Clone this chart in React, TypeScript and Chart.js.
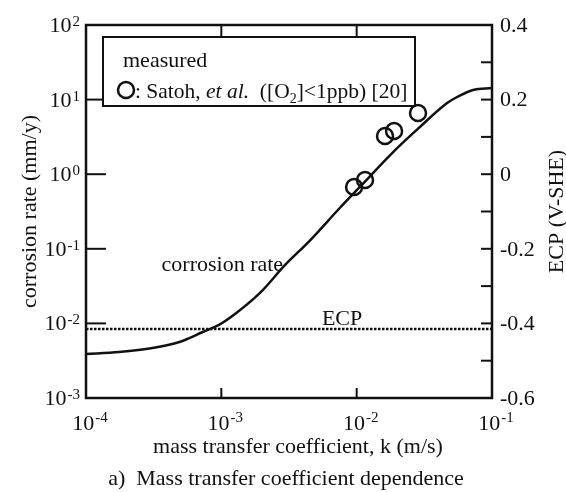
import React, { useEffect, useRef } from "react";
import { Chart, registerables } from "chart.js";

Chart.register(...registerables);

// calculated corrosion rate curve (mass transfer coefficient k [m/s] -> corrosion rate [mm/y])
const curveK = [1e-4, 1.75e-4, 3.1e-4, 4.9e-4, 7.3e-4, 9.6e-4, 1.29e-3, 1.93e-3, 2.96e-3, 4.53e-3, 7.53e-3, 1.06e-2, 1.86e-2, 2.79e-2, 4.66e-2, 5.52e-2, 7.24e-2, 1e-1];
const curveRate = [0.00389, 0.00414, 0.00468, 0.00564, 0.00767, 0.00953, 0.01377, 0.0256, 0.0607, 0.13, 0.355, 0.68, 1.98, 3.95, 8.99, 10.84, 13.46, 14.29];

// measured: Satoh et al.
const measuredK = [0.00957, 0.01153, 0.0162, 0.0189, 0.0284];
const measuredRate = [0.673, 0.836, 3.25, 3.79, 6.61];

// ECP (V-SHE)
const ecpK = [1e-4, 1e-1];
const ecpValue = [-0.415, -0.415];

// axis ticks
const xTickExps = [-4, -3, -2, -1];
const yTickExps = [-3, -2, -1, 0, 1, 2];
const rightTickLabels = [-0.6, -0.4, -0.2, 0, 0.2, 0.4];
const rightMinorTicks = [-0.5, -0.4, -0.3, -0.2, -0.1, 0, 0.1, 0.2, 0.3];

const FONT = '"Liberation Serif", "Times New Roman", serif';
const INK = "#111";

function drawPow(ctx: CanvasRenderingContext2D, exp: number, x: number, baseY: number, supY: number, align: "right" | "center") {
  ctx.font = `22px ${FONT}`;
  const base = "10";
  const bw = ctx.measureText(base).width;
  ctx.font = `15px ${FONT}`;
  const sup = String(exp);
  const sw = ctx.measureText(sup).width;
  const total = bw + sw + 1;
  const start = align === "right" ? x - total : x - total / 2;
  ctx.textAlign = "left";
  ctx.textBaseline = "alphabetic";
  ctx.font = `22px ${FONT}`;
  ctx.fillText(base, start, baseY);
  ctx.font = `15px ${FONT}`;
  ctx.fillText(sup, start + bw + 1, supY);
}

function seg(ctx: CanvasRenderingContext2D, x1: number, y1: number, x2: number, y2: number) {
  ctx.beginPath();
  ctx.moveTo(x1, y1);
  ctx.lineTo(x2, y2);
  ctx.stroke();
}

const overlayPlugin = {
  id: "overlay",
  afterDatasetsDraw(chart: any) {
    const { ctx, chartArea: a, scales } = chart;
    const xs = scales.x, ys = scales.y, y2s = scales.y2;
    ctx.save();
    ctx.fillStyle = INK;
    ctx.strokeStyle = INK;

    // frame
    ctx.lineWidth = 2.5;
    ctx.strokeRect(a.left, a.top, a.right - a.left, a.bottom - a.top);

    // inner ticks
    ctx.lineWidth = 2;
    yTickExps.slice(1, -1).forEach((e) => {
      const py = ys.getPixelForValue(Math.pow(10, e));
      seg(ctx, a.left, py, a.left + 20, py);
    });
    xTickExps.slice(1, -1).forEach((e) => {
      const px = xs.getPixelForValue(Math.pow(10, e));
      seg(ctx, px, a.bottom, px, a.bottom - 10);
      seg(ctx, px, a.top, px, a.top + 12);
    });
    rightMinorTicks.forEach((v) => {
      const py = y2s.getPixelForValue(v);
      seg(ctx, a.right, py, a.right - 11, py);
    });

    // left tick labels
    yTickExps.forEach((e) => {
      const py = ys.getPixelForValue(Math.pow(10, e));
      drawPow(ctx, e, a.left - 6, py + 7, py + 1, "right");
    });
    // bottom tick labels
    xTickExps.forEach((e) => {
      const px = xs.getPixelForValue(Math.pow(10, e));
      drawPow(ctx, e, px + 4, a.bottom + 32, a.bottom + 24, "center");
    });
    // right tick labels
    ctx.font = `22px ${FONT}`;
    ctx.textAlign = "left";
    ctx.textBaseline = "middle";
    rightTickLabels.forEach((v) => {
      const py = y2s.getPixelForValue(v);
      const s = v === 0 ? "0" : (v < 0 ? "-" : "") + Math.abs(v).toFixed(1);
      ctx.fillText(s, a.right + 8, py + 1);
    });

    // axis titles
    ctx.textBaseline = "alphabetic";
    ctx.textAlign = "center";
    ctx.font = `22px ${FONT}`;
    ctx.fillText("mass transfer coefficient, k (m/s)", (a.left + a.right) / 2 + 9, a.bottom + 55);
    ctx.fillText("a)  Mass transfer coefficient dependence", (a.left + a.right) / 2 - 3, a.bottom + 87);

    ctx.save();
    ctx.translate(a.left - 50, (a.top + a.bottom) / 2);
    ctx.rotate(-Math.PI / 2);
    ctx.fillText("corrosion rate (mm/y)", 0, 0);
    ctx.restore();

    ctx.save();
    ctx.translate(a.right + 71, (a.top + a.bottom) / 2);
    ctx.rotate(-Math.PI / 2);
    ctx.fillText("ECP (V-SHE)", 0, 0);
    ctx.restore();

    // in-plot labels
    const ecpY = y2s.getPixelForValue(ecpValue[0]);
    ctx.textAlign = "center";
    ctx.fillText("ECP", xs.getPixelForValue(0.0078), ecpY - 4);
    ctx.textAlign = "right";
    ctx.fillText("corrosion rate", xs.getPixelForValue(0.00286), ys.getPixelForValue(0.05));

    // legend box
    const lx = a.left + 17, ly = a.top + 12, lw = 312, lh = 69;
    ctx.fillStyle = "#fff";
    ctx.fillRect(lx, ly, lw, lh);
    ctx.lineWidth = 2;
    ctx.strokeStyle = INK;
    ctx.strokeRect(lx, ly, lw, lh);
    ctx.fillStyle = INK;
    ctx.textAlign = "left";
    ctx.font = `22px ${FONT}`;
    ctx.fillText("measured", lx + 20, ly + 30);
    ctx.lineWidth = 2.5;
    ctx.beginPath();
    ctx.arc(lx + 23, ly + 53, 8, 0, Math.PI * 2);
    ctx.stroke();
    let tx = lx + 32;
    const by = ly + 61;
    const put = (t: string, font: string, dy = 0) => {
      ctx.font = font;
      ctx.fillText(t, tx, by + dy);
      tx += ctx.measureText(t).width;
    };
    put(": Satoh, ", `21.5px ${FONT}`);
    put("et al.", `italic 21.5px ${FONT}`);
    put("  ([O", `21.5px ${FONT}`);
    put("2", `14px ${FONT}`, 5);
    put("]<1ppb) [20]", `21.5px ${FONT}`);

    ctx.restore();
  },
};

export default function App() {
  const ref = useRef<HTMLCanvasElement>(null);
  useEffect(() => {
    if (!ref.current) return;
    const chart = new Chart(ref.current, {
      type: "line",
      data: {
        datasets: [
          {
            label: "corrosion rate",
            data: curveK.map((k, i) => ({ x: k, y: curveRate[i] })),
            borderColor: INK,
            borderWidth: 2.5,
            pointRadius: 0,
            cubicInterpolationMode: "monotone",
            yAxisID: "y",
            fill: false,
          },
          {
            label: "ECP",
            data: ecpK.map((k, i) => ({ x: k, y: ecpValue[i] })),
            borderColor: INK,
            borderWidth: 2.5,
            borderDash: [2.5, 1.5],
            pointRadius: 0,
            yAxisID: "y2",
            fill: false,
          },
          {
            label: "measured",
            data: measuredK.map((k, i) => ({ x: k, y: measuredRate[i] })),
            showLine: false,
            pointRadius: 8,
            pointBorderWidth: 2.5,
            pointBorderColor: INK,
            pointBackgroundColor: "rgba(0,0,0,0)",
            yAxisID: "y",
          },
        ],
      },
      options: {
        animation: false,
        responsive: false,
        devicePixelRatio: 1,
        layout: { padding: { top: 25, left: 0, right: 0, bottom: 0 } },
        plugins: { legend: { display: false }, tooltip: { enabled: false } },
        scales: {
          x: {
            type: "logarithmic",
            min: 1e-4,
            max: 1e-1,
            ticks: { display: false },
            grid: { display: false },
            border: { display: false },
            afterFit: (s: any) => { s.height = 94; },
          },
          y: {
            type: "logarithmic",
            position: "left",
            min: 1e-3,
            max: 1e2,
            ticks: { display: false },
            grid: { display: false },
            border: { display: false },
            afterFit: (s: any) => { s.width = 86; },
          },
          y2: {
            type: "linear",
            position: "right",
            min: -0.6,
            max: 0.4,
            ticks: { display: false },
            grid: { display: false },
            border: { display: false },
            afterFit: (s: any) => { s.width = 74; },
          },
        },
      } as any,
      plugins: [overlayPlugin],
    });
    return () => chart.destroy();
  }, []);
  return (
    <div style={{ position: "fixed", left: 0, top: 0, width: 566, height: 492, background: "#fff" }}>
      <canvas ref={ref} width={566} height={492} style={{ display: "block", width: 566, height: 492 }} />
    </div>
  );
}
